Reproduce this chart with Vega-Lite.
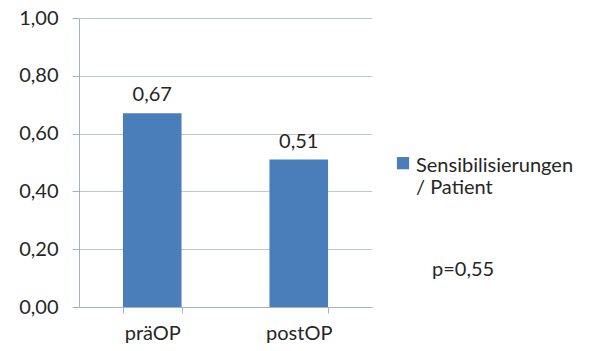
{
  "$schema": "https://vega.github.io/schema/vega-lite/v6.json",
  "width": 293,
  "height": 289,
  "autosize": {"type": "none"},
  "padding": {"left": 79, "top": 18, "right": 222, "bottom": 44},
  "background": "white",
  "data": {
    "values": [
      {"zeitpunkt": "präOP", "wert": 0.67, "serie": "Sensibilisierungen / Patient"},
      {"zeitpunkt": "postOP", "wert": 0.51, "serie": "Sensibilisierungen / Patient"}
    ]
  },
  "title": {
    "text": "p=0,55",
    "orient": "top",
    "anchor": "start",
    "frame": "group",
    "offset": 0,
    "dx": 353,
    "dy": 272,
    "font": "Lato",
    "fontSize": 20,
    "fontWeight": "normal",
    "color": "#262626"
  },
  "encoding": {
    "x": {
      "field": "zeitpunkt",
      "type": "nominal",
      "sort": ["präOP", "postOP"],
      "scale": {"paddingInner": 0.6, "paddingOuter": 0.3},
      "axis": {
        "title": null,
        "labelAngle": 0,
        "tickBand": "extent",
        "tickSize": 6,
        "labelPadding": 10,
        "labelFontSize": 20,
        "labelFont": "Lato",
        "labelColor": "#262626",
        "domainColor": "#9fb3c8",
        "tickColor": "#9fb3c8",
        "grid": false
      }
    },
    "y": {
      "field": "wert",
      "type": "quantitative",
      "scale": {"domain": [0, 1], "nice": false},
      "axis": {
        "title": null,
        "values": [0, 0.2, 0.4, 0.6, 0.8, 1.0],
        "format": ".2f",
        "tickSize": 7,
        "labelPadding": 14,
        "labelFontSize": 20,
        "labelFont": "Lato",
        "labelColor": "#262626",
        "domainColor": "#9fb3c8",
        "tickColor": "#9fb3c8",
        "gridColor": "#b9c9d9",
        "gridWidth": 1
      }
    }
  },
  "layer": [
    {
      "mark": {"type": "bar", "color": "#4a7ebb"},
      "encoding": {
        "color": {
          "field": "serie",
          "type": "nominal",
          "scale": {"range": ["#4a7ebb"]},
          "legend": {
            "title": null,
            "orient": "none",
            "legendX": 314,
            "legendY": 128,
            "symbolType": "M-1,0.17H1V2.17H-1Z",
            "symbolSize": 150,
            "symbolStrokeWidth": 0,
            "labelFont": "Lato",
            "labelFontSize": 20,
            "labelColor": "#262626",
            "labelOffset": 3,
            "labelLimit": 300,
            "labelLineHeight": 26,
            "labelBaseline": "top",
            "labelExpr": "[slice(datum.label, 0, 18), slice(datum.label, 19)]"
          }
        }
      }
    },
    {
      "mark": {
        "type": "text",
        "baseline": "alphabetic",
        "dy": -12,
        "font": "Lato",
        "fontSize": 20,
        "color": "#262626"
      },
      "encoding": {
        "text": {"field": "wert", "type": "quantitative", "format": ".2f"}
      }
    }
  ],
  "config": {
    "locale": {
      "number": {
        "decimal": ",",
        "thousands": ".",
        "grouping": [3],
        "currency": ["", " €"]
      }
    },
    "view": {"stroke": null}
  }
}
